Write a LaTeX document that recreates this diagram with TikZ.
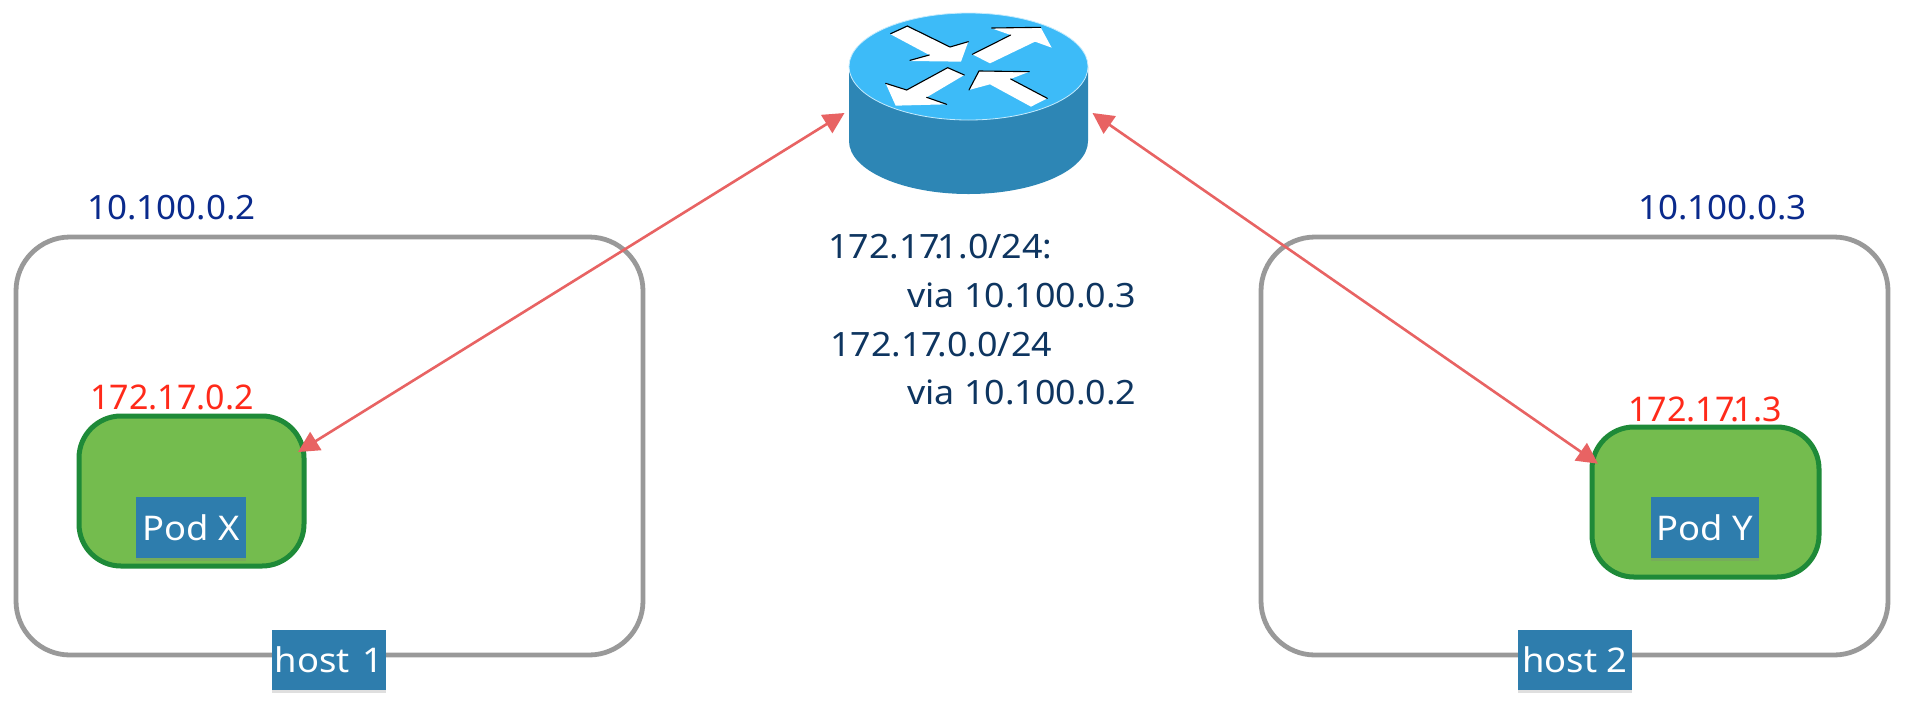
\documentclass[tikz,border=0pt]{standalone}
\usepackage{fontspec}
\setmainfont{Noto Sans}
\newfontfamily\hostfont[FakeStretch=1.045]{Noto Sans}
\newfontfamily\routefont[FakeStretch=1.07]{Noto Sans}
\newfontfamily\tagfont[FakeStretch=1.07]{Noto Sans}
\usetikzlibrary{calc,arrows.meta,shadows}
\definecolor{hostgray}{HTML}{999999}
\definecolor{podgreen}{HTML}{74BC4E}
\definecolor{podedge}{HTML}{1E8A38}
\definecolor{boxblue}{HTML}{2E7DAD}
\definecolor{linkred}{HTML}{E86363}
\definecolor{hostip}{HTML}{0A2A8C}
\definecolor{podip}{HTML}{FF2A1A}
\definecolor{routetxt}{HTML}{0E3560}
\definecolor{routertop}{HTML}{3DBBF8}
\definecolor{routerside}{HTML}{2D86B5}
\tikzset{
  x=1pt,y=-1pt,
  hostbox/.style={draw=hostgray,line width=4.8pt,rounded corners=54pt,inner sep=0,outer sep=0},
  podbox/.style={draw=podedge,fill=podgreen,line width=5pt,rounded corners=42pt,inner sep=0,outer sep=0},
  tagbox/.style={fill=boxblue,text=white,inner sep=0,outer sep=0,font=\tagfont\fontsize{34}{34}\selectfont,text depth=0pt,
    drop shadow={shadow xshift=0pt,shadow yshift=-2.5pt,opacity=.25}},
  hostlabel/.style={anchor=base west,inner sep=0,text=hostip,font=\hostfont\fontsize{33.5}{33.5}\selectfont},
  podlabel/.style={anchor=base west,inner sep=0,text=podip,font=\fontsize{34}{34}\selectfont},
  routelabel/.style={anchor=base west,inner sep=0,text=routetxt,font=\routefont\fontsize{33.5}{33.5}\selectfont},
  link/.style={draw=linkred,line width=2.6pt,{Triangle[length=21pt,width=21pt]}-{Triangle[length=21pt,width=21pt]}},
  routerarrow/.style={fill=white},
  routeredge/.style={draw=black,line width=1.1pt,line cap=round}
}
\begin{document}
\begin{tikzpicture}
\useasboundingbox[fill=white] (0,0) rectangle (1910,710);
% hosts
\node[hostbox,minimum width=627pt,minimum height=418pt] (host1) at (329.5,446) {};
\node[hostbox,minimum width=627pt,minimum height=418pt] (host2) at (1574.5,446) {};
% pods
\node[podbox,minimum width=225pt,minimum height=150pt] (podx) at (191.5,491) {};
\node[podbox,minimum width=227pt,minimum height=150pt] (pody) at (1705.5,502) {};
% tags
\node[tagbox,minimum width=110pt,minimum height=61pt] (podxtag) at (191,527.5) {Pod X};
\node[tagbox,minimum width=108pt,minimum height=61pt] (podytag) at (1705,527.5) {Pod Y};
\node[tagbox,minimum width=114pt,minimum height=60pt] (host1tag) at (329,660) {host\hspace{.1em} 1};
\node[tagbox,minimum width=114pt,minimum height=60pt] (host2tag) at (1575,660) {host 2};
% addresses
\node[hostlabel] (ip1) at (87,219) {10.100.0.2};
\node[hostlabel] (ip2) at (1638,219) {10.100.0.3};
\node[podlabel] (ipx) at (90,409) {172.17.0.2};
\node[podlabel] (ipy) at (1628,421) {172.17\kern-.12em.\kern-.17em 1.3};
\node[routelabel] (r1) at (828,258) {172.17\kern-.16em.\kern-.2em 1.0/24:};
\node[routelabel] (r2) at (907,307) {via 10.100.0.3};
\node[routelabel] (r3) at (830,356) {172.17\kern-.14em.0.0/24};
\node[routelabel] (r4) at (907,404) {via 10.100.0.2};
% router
\fill[routerside] (849,67) -- (849,141) arc[x radius=119.5,y radius=53,start angle=180,end angle=0] -- (1088,67) -- cycle;
\fill[routertop,draw=white!70!routertop,line width=.8pt] (968.5,66.5) ellipse[x radius=119.5,y radius=53.5];
\begin{scope}[shift={(800,0)},x=0.3333pt,y=-0.3333pt]
  \fill[routerarrow] (272,103) -- (322,80) -- (450,142) -- (505,125) -- (483,185) -- (330,183) -- (388,165) -- cycle;
  \draw[routeredge] (272,101) -- (322,78) -- (450,141) -- (505,125);
  \draw[routeredge] (330,181) -- (388,165);
  \fill[routerarrow] (517,163) -- (632,105) -- (575,85) -- (722,82) -- (755,143) -- (705,125) -- (570,190) -- cycle;
  \draw[routeredge] (517,163) -- (632,105);
  \draw[routeredge] (575,84) -- (722,82);
  \fill[routerarrow] (443,203) -- (320,270) -- (257,250) -- (287,317) -- (440,313) -- (380,292) -- (493,225) -- cycle;
  \draw[routeredge] (493,225) -- (443,203) -- (320,270) -- (257,250);
  \draw[routeredge] (380,292) -- (440,313);
  \fill[routerarrow] (742,295) -- (693,320) -- (570,253) -- (507,270) -- (537,213) -- (688,215) -- (632,237) -- cycle;
  \draw[routeredge] (507,270) -- (537,213) -- (688,215);
  \draw[routeredge] (632,237) -- (742,295);
\end{scope}
% invisible handle for the router
\node[minimum width=248pt,minimum height=182pt,inner sep=0,outer sep=0] (router) at (968.5,103.5) {};
\coordinate (routerL) at ($(router.west)+(0,9.5)$);
\coordinate (routerR) at ($(router.east)+(0,9.5)$);
\coordinate (podxL) at ($(podx.20)+(-6,2)$);
\coordinate (podyL) at ($(pody.160)+(6,3)$);
% links
\draw[link] (routerL) -- (podxL);
\draw[link] (routerR) -- (podyL);
\end{tikzpicture}
\end{document}
